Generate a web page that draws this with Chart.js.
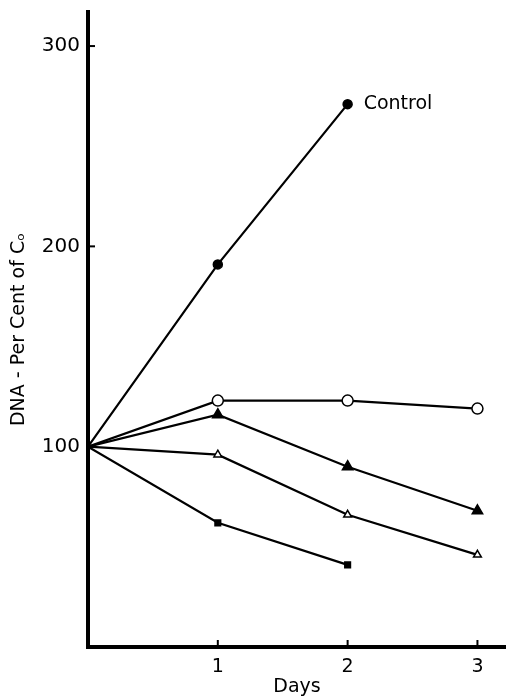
<!DOCTYPE html>
<html>
<head>
<meta charset="utf-8">
<script src="https://cdn.jsdelivr.net/npm/chart.js@4.4.0/dist/chart.umd.min.js"></script>
<style>
  body { margin: 0; background: #fff; }
  canvas { display: block; }
</style>
</head>
<body>
<canvas id="dnaChart" width="506" height="698"></canvas>
<script>
var days = [0, 1, 2, 3];
var control = [100, 191, 271];
var openCircle = [100, 123, 123, 119];
var filledTriangle = [100, 116, 90, 68];
var openTriangle = [100, 96, 66, 46];
var filledSquare = [100, 62, 41];
var yTicks = [100, 200, 300];
var xTicks = [1, 2, 3];

function toPoints(values) {
  return values.map(function (v, i) { return { x: days[i], y: v }; });
}

function buildDataset(label, values, style, fill, radius) {
  return {
    label: label,
    data: toPoints(values),
    borderColor: '#000',
    borderWidth: 2.2,
    pointStyle: style,
    pointBackgroundColor: fill,
    pointBorderColor: '#000',
    pointBorderWidth: 1.5,
    pointRadius: values.map(function (v, i) { return i === 0 ? 0 : radius; }),
    fill: false,
    tension: 0
  };
}

function noPadding(scale) {
  scale.paddingTop = 0;
  scale.paddingBottom = 0;
  scale.paddingLeft = 0;
  scale.paddingRight = 0;
}

// little inward tick marks and the "Control" label
var extras = {
  id: 'extras',
  afterDraw: function (chart) {
    var ctx = chart.ctx;
    var xs = chart.scales.x, ys = chart.scales.y;
    ctx.save();
    ctx.strokeStyle = '#000';
    ctx.lineWidth = 2;
    yTicks.forEach(function (t) {
      var py = ys.getPixelForValue(t);
      ctx.beginPath();
      ctx.moveTo(xs.left, py);
      ctx.lineTo(xs.left + 7, py);
      ctx.stroke();
    });
    xTicks.forEach(function (t) {
      var px = xs.getPixelForValue(t);
      ctx.beginPath();
      ctx.moveTo(px, ys.bottom);
      ctx.lineTo(px, ys.bottom - 7);
      ctx.stroke();
    });
    var last = chart.getDatasetMeta(0).data[control.length - 1];
    ctx.fillStyle = '#000';
    ctx.font = '19px "DejaVu Sans"';
    ctx.textBaseline = 'middle';
    ctx.fillText('Control', last.x + 16, last.y);
    ctx.restore();
  }
};

new Chart(document.getElementById('dnaChart').getContext('2d'), {
  type: 'line',
  data: {
    datasets: [
      buildDataset('Control', control, 'circle', '#000', 4.5),
      buildDataset('Open circle', openCircle, 'circle', '#fff', 5.5),
      buildDataset('Filled triangle', filledTriangle, 'triangle', '#000', 6),
      buildDataset('Open triangle', openTriangle, 'triangle', '#fff', 4.5),
      buildDataset('Filled square', filledSquare, 'rect', '#000', 4)
    ]
  },
  plugins: [extras],
  options: {
    responsive: false,
    animation: false,
    layout: { autoPadding: false, padding: { top: 12, right: 0, bottom: 0, left: 0 } },
    plugins: {
      legend: { display: false },
      tooltip: { enabled: false }
    },
    scales: {
      x: {
        type: 'linear',
        min: 0,
        max: 3.22,
        afterFit: function (scale) { scale.height = 51; noPadding(scale); },
        afterBuildTicks: function (scale) {
          scale.ticks = xTicks.map(function (v) { return { value: v }; });
        },
        grid: { display: false, drawTicks: false },
        border: { display: true, color: '#000', width: 4 },
        ticks: {
          color: '#000',
          padding: 9,
          font: { family: 'DejaVu Sans', size: 19 }
        },
        title: {
          display: true,
          text: 'Days',
          color: '#000',
          padding: { top: 0, bottom: 0 },
          font: { family: 'DejaVu Sans', size: 19 }
        }
      },
      y: {
        min: 0,
        max: 317,
        afterFit: function (scale) { scale.width = 88; noPadding(scale); },
        afterBuildTicks: function (scale) {
          scale.ticks = yTicks.map(function (v) { return { value: v }; });
        },
        grid: { display: false, drawTicks: false },
        border: { display: true, color: '#000', width: 4 },
        ticks: {
          color: '#000',
          padding: 8,
          font: { family: 'DejaVu Sans', size: 20 }
        },
        title: {
          display: true,
          text: 'DNA - Per Cent of C\u2092',
          color: '#000',
          padding: { top: 8, bottom: 8 },
          font: { family: 'DejaVu Sans', size: 19 }
        }
      }
    }
  }
});
</script>
</body>
</html>
